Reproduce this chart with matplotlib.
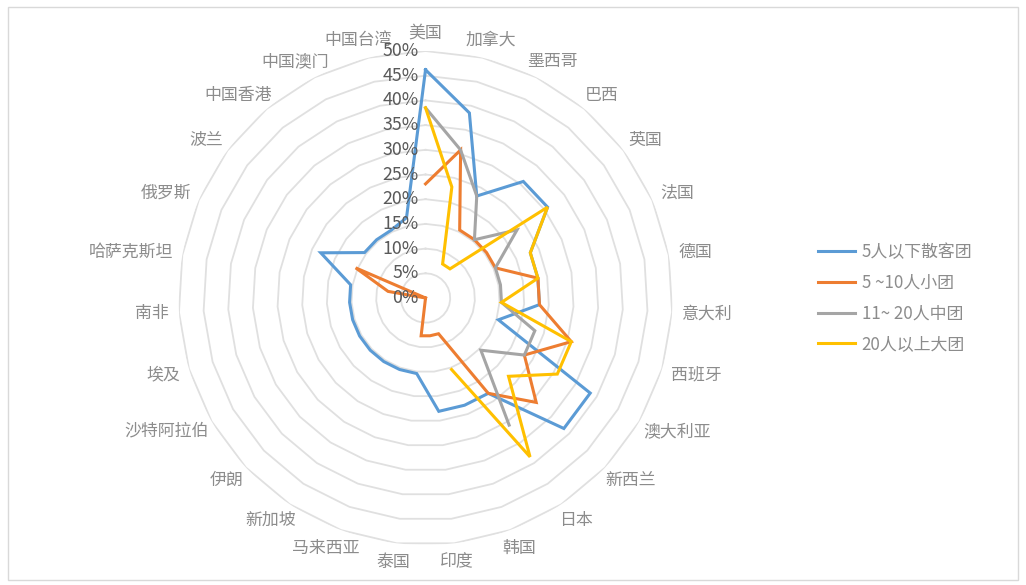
import numpy as np
import matplotlib
matplotlib.use('Agg')
import matplotlib.pyplot as plt
from matplotlib.patches import Rectangle

plt.rcParams['font.family'] = ['Noto Sans CJK SC', 'DejaVu Sans']

categories = ['美国', '加拿大', '墨西哥', '巴西', '英国', '法国', '德国', '意大利', '西班牙',
              '澳大利亚', '新西兰', '日本', '韩国', '印度', '泰国', '马来西亚', '新加坡', '伊朗',
              '沙特阿拉伯', '埃及', '南非', '哈萨克斯坦', '俄罗斯', '波兰', '中国香港', '中国澳门', '中国台湾']

nan = np.nan
s_small = [46.2, 38.5, 23.1, 30.8, 30.8, 23.1, 23.1, 23.1, 15.4, 38.5, 38.5, 23.1, 23.1, 23.1,
           15.4, 15.4, 15.4, 15.4, 15.4, 15.4, 15.4, 15.4, 23.1, 15.4, 15.4, 15.4, 16.7]
s_5_10 = [23.1, 30.8, 15.4, 15.4, 15.4, 15.4, 23.1, 23.1, 30.8, 23.1, 30.8, 23.1, 7.7, 7.7,
          7.7, 0, 0, 0, 0, 0, 0, 7.7, 15.4, 0, 0, 0, nan]
s_11_20 = [38.5, 30.8, 23.1, 15.4, 23.1, 15.4, 15.4, 15.4, 23.1, 23.1, 15.4, 30.8, nan, nan,
           nan, nan, nan, nan, nan, nan, nan, nan, nan, nan, nan, nan, nan]
s_20plus = [38.5, 23.1, 7.7, 7.7, 30.8, 23.1, 23.1, 15.4, 30.8, 30.8, 23.1, 38.5, 15.4, nan,
            nan, nan, nan, nan, nan, nan, nan, nan, nan, nan, nan, nan, nan]

series_names = ['5人以下散客团', '5 ~10人小团', '11~ 20人中团', '20人以上大团']
series_values = [s_small, s_5_10, s_11_20, s_20plus]
series_colors = ['#5B9BD5', '#ED7D31', '#A5A5A5', '#FFC000']

r_ticks = list(range(0, 51, 5))
r_tick_labels = [f'{v}%' for v in r_ticks]

fig = plt.figure(figsize=(10.26, 5.85), dpi=100)
fig.patches.append(Rectangle((0.008, 0.008), 0.984, 0.98, transform=fig.transFigure,
                             fill=False, edgecolor='#d9d9d9', lw=1.0))

ax = fig.add_axes([0.174, 0.0684, 0.4815, 0.8444], projection='polar')
ax.set_theta_zero_location('N')
ax.set_theta_direction(-1)
ax.set_ylim(0, 50)
ax.axis('off')

N = len(categories)
theta = np.arange(N) * 2 * np.pi / N
theta_c = np.append(theta, theta[0])

# polygon gridlines
for lv in r_ticks[1:]:
    ax.plot(theta_c, [lv] * (N + 1), color='#e0e0e0', lw=1.3, zorder=1)

handles = []
for name, vals, col in zip(series_names, series_values, series_colors):
    v = np.append(np.array(vals, dtype=float), vals[0])
    h, = ax.plot(theta_c, v, color=col, lw=2.2, label=name, zorder=3,
                 solid_joinstyle='miter')
    handles.append(h)

# radial tick labels
px = 0.72  # points per pixel at dpi 100
for rv, lab in zip(r_ticks, r_tick_labels):
    ax.annotate(lab, xy=(0, rv), xytext=(-7 * px, 0), textcoords='offset points',
                ha='right', va='center', fontsize=12.8, color='#595959', zorder=5)

# category labels
fs = 12.2
char_px = 17.0
for t, lab in zip(theta, categories):
    w = len(lab) * char_px
    h = 17.0
    s, c = np.sin(t), np.cos(t)
    dx = (10 + w / 2) * s
    dy = (10 + h / 2) * c
    ax.annotate(lab, xy=(t, 50), xytext=(dx * px, dy * px), textcoords='offset points',
                ha='center', va='center', fontsize=fs, color='#8c8c8c')

fig.legend(handles, series_names, loc='upper left', bbox_to_anchor=(0.797, 0.585),
           frameon=False, fontsize=12.2, labelcolor='#8c8c8c', handlelength=2.2,
           handletextpad=0.4, labelspacing=0.76, borderpad=0, borderaxespad=0)

fig.savefig('out.png', dpi=100)
